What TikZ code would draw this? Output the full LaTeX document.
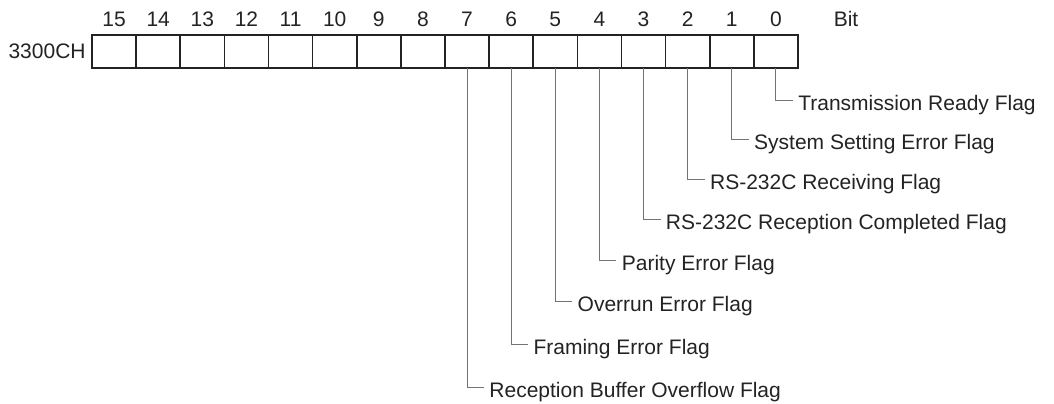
\documentclass[tikz,border=0pt]{standalone}
\usepackage{fontspec}
\setmainfont{Liberation Sans}
\usetikzlibrary{positioning}
\definecolor{ink}{RGB}{35,35,35}
\definecolor{leadgray}{RGB}{115,115,115}
\begin{document}
\begin{tikzpicture}[
  x=0.5pt,
  y=-0.5pt,
  cell/.style={draw=ink,line width=0.8pt,minimum width=22.06pt,minimum height=16.5pt,inner sep=0pt,outer sep=0pt},
  lead/.style={draw=leadgray,line width=0.5pt},
  txt/.style={text=ink,inner sep=0pt,font=\fontsize{10.5pt}{12pt}\selectfont},
  bitno/.style={txt,anchor=base},
  flag/.style={txt,anchor=base west,yshift=-5.2pt}
]
  \useasboundingbox (0,0) rectangle (1054,403);

  \foreach \i in {0,...,15} {
    \node[cell] (b\i) at ({92+(15.5-\i)*44.125},51.5) {};
    \node[bitno] (n\i) at ({92+(15.5-\i)*44.125},26.7) {\i};
  }
  \node[bitno] (bit) at (846,26.7) {Bit};
  \node[txt,left=3pt of b15] (reg) {3300CH};

  \foreach \i/\yy/\name in {0/100/Transmission Ready Flag,
      1/139/System Setting Error Flag,
      2/179/RS-232C Receiving Flag,
      3/219/RS-232C Reception Completed Flag,
      4/260/Parity Error Flag,
      5/301/Overrun Error Flag,
      6/344/Framing Error Flag,
      7/387/Reception Buffer Overflow Flag} {
    \coordinate (k\i) at ({92+(15.5-\i)*44.125+17},\yy);
    \draw[lead] (b\i.south) |- (k\i);
    \node[flag] (f\i) at ([xshift=2.5pt]k\i) {\name};
  }
\end{tikzpicture}
\end{document}
